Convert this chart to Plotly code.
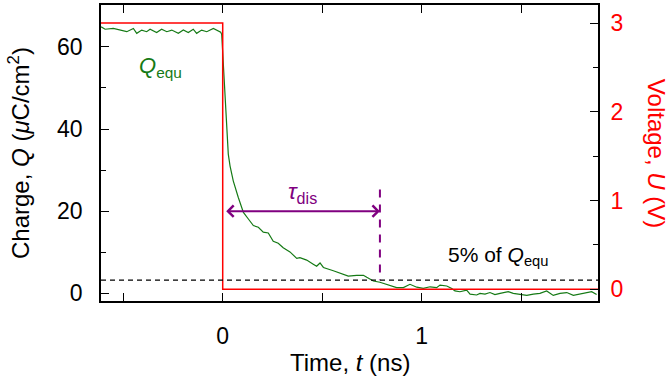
import plotly.graph_objects as go

# Charge transient Q(t) after the voltage step
t_charge = [-0.611, -0.591, -0.550, -0.500, -0.482, -0.449, -0.432, -0.407, -0.382, -0.365,
            -0.332, -0.307, -0.281, -0.256, -0.223, -0.198, -0.173, -0.148, -0.131, -0.106,
            -0.080, -0.047, -0.022, -0.010, -0.005, 0.003, 0.012, 0.028, 0.037, 0.053,
            0.078, 0.104, 0.129, 0.154, 0.179, 0.204, 0.229, 0.254, 0.279, 0.304,
            0.338, 0.372, 0.388, 0.422, 0.455, 0.472, 0.489, 0.506, 0.556, 0.589,
            0.631, 0.673, 0.707, 0.724, 0.757, 0.790, 0.832, 0.874, 0.908, 0.941,
            0.975, 1.008, 1.042, 1.075, 1.092, 1.126, 1.151, 1.167, 1.192, 1.226,
            1.243, 1.276, 1.293, 1.318, 1.343, 1.368, 1.394, 1.435, 1.460, 1.494,
            1.528, 1.561, 1.594, 1.628, 1.661, 1.695, 1.729, 1.762, 1.796, 1.829,
            1.854, 1.879]
q_charge = [64.9, 64.3, 64.5, 64.0, 63.7, 64.5, 63.3, 64.1, 63.7, 64.3,
            63.5, 64.3, 63.7, 64.1, 63.3, 64.1, 63.5, 64.3, 63.3, 64.1,
            63.7, 64.5, 64.0, 63.6, 63.0, 56.4, 46.0, 33.9, 31.0, 27.4,
            23.4, 19.7, 18.1, 16.5, 16.1, 14.9, 14.7, 12.7, 12.2, 11.1,
            10.1, 8.5, 8.7, 8.1, 7.1, 6.6, 7.4, 6.3, 5.5, 5.0,
            4.2, 4.4, 4.4, 3.9, 3.0, 2.7, 2.0, 1.4, 1.4, 2.2,
            1.5, 1.2, 1.6, 1.4, 2.0, 1.8, 1.2, 0.6, 0.4, 0.8,
            -0.2, -0.4, 0.0, -0.2, 0.2, -0.3, 0.0, 0.4, 0.0, -0.2,
            -0.5, -0.2, 0.0, 0.6, -0.5, 0.0, 0.2, -0.5, -0.2, 0.0,
            0.4, -0.3]

# Applied voltage step U(t)
t_volt = [-0.62, 0.0, 0.0, 1.90]
u_volt = [3.0, 3.0, 0.0, 0.0]

# Equilibrium charge, threshold fraction and discharge time
q_equ = 64.0
threshold_frac = 0.05
tau_dis = 0.79
tau_arrow_level = 20.0
tau_marker_top = 25.3

x_range = [-0.6116, 1.8859]
yq_range = [-1.86, 70.2]
yu_range = [-0.131, 3.203]

FONT = "Liberation Sans"
GREEN = "#157a15"
PURPLE = "#800080"
RED = "#ff0000"

fig = go.Figure()

fig.add_trace(go.Scatter(x=t_charge, y=q_charge, mode="lines",
                         line=dict(color=GREEN, width=1.2), showlegend=False))
fig.add_trace(go.Scatter(x=t_volt, y=u_volt, mode="lines", yaxis="y2",
                         line=dict(color=RED, width=1.5), showlegend=False))

# vertical dashed marker at tau_dis
fig.add_trace(go.Scatter(x=[tau_dis, tau_dis], y=[tau_marker_top, threshold_frac * q_equ],
                         mode="lines", line=dict(color=PURPLE, width=2, dash="8px,7px"),
                         showlegend=False))

# 5 % threshold line
fig.add_shape(type="line", xref="paper", x0=0, x1=1, yref="y",
              y0=threshold_frac * q_equ, y1=threshold_frac * q_equ,
              line=dict(color="black", width=1.2, dash="5px,4px"))

# double arrow spanning the discharge time
fig.add_annotation(x=tau_dis, y=tau_arrow_level, ax=0.0, ay=tau_arrow_level,
                   xref="x", yref="y", axref="x", ayref="y", text="",
                   showarrow=True, arrowside="end+start", arrowhead=4, startarrowhead=4,
                   arrowsize=1.1, startarrowsize=1.1, arrowwidth=2, arrowcolor=PURPLE,
                   standoff=0, startstandoff=2)

def label(x, y, text, size, color, ref="data", angle=0):
    xr, yr = ("x", "y") if ref == "data" else ("paper", "paper")
    fig.add_annotation(x=x, y=y, xref=xr, yref=yr, showarrow=False, text=text,
                       textangle=angle, xanchor="center", yanchor="middle",
                       font=dict(family=FONT, size=size, color=color))

label(0.40, 24.5, "<i>τ</i><sub>dis</sub>", 23, PURPLE)
label(-0.315, 55.0, "<i>Q</i><sub>equ</sub>", 22, GREEN)
label(1.385, 9.0, "5% of <i>Q</i><sub>equ</sub>", 21, "black")

# axis titles
label(-0.165, 0.5, "Charge, <i>Q</i> (<i>μ</i>C/cm<sup>2</sup>)", 24, "black", ref="paper", angle=-90)
label(1.119, 0.5, "Voltage, <i>U</i> (V)", 24, RED, ref="paper", angle=90)
label(0.5, -0.208, "Time, <i>t</i> (ns)", 24, "black", ref="paper")

axis_common = dict(showline=True, linecolor="black", linewidth=1.6, showgrid=False,
                   zeroline=False, ticks="inside", ticklen=8, tickwidth=1.4,
                   tickcolor="black")

fig.update_layout(
    width=670, height=382,
    margin=dict(l=101, r=72, t=3, b=81),
    paper_bgcolor="white", plot_bgcolor="white",
    font=dict(family=FONT, size=23, color="black"),
    showlegend=False,
    xaxis=dict(range=x_range, tick0=0, dtick=1, mirror="allticks",
               minor=dict(dtick=0.5, ticks="inside", ticklen=5, tickwidth=1.2, tickcolor="black"),
               tickfont=dict(family=FONT, size=23, color="black"), ticklabelstandoff=14,
               **axis_common),
    yaxis=dict(range=yq_range, tick0=0, dtick=20,
               minor=dict(dtick=10, ticks="inside", ticklen=5, tickwidth=1.2, tickcolor="black"),
               tickfont=dict(family=FONT, size=23, color="black"), ticklabelstandoff=12,
               **axis_common),
    yaxis2=dict(range=yu_range, overlaying="y", side="right", tick0=0, dtick=1,
                minor=dict(dtick=0.5, ticks="inside", ticklen=5, tickwidth=1.2, tickcolor="black"),
                tickfont=dict(family=FONT, size=23, color=RED), ticklabelstandoff=6,
                **axis_common),
)

fig.write_html("out.html")
